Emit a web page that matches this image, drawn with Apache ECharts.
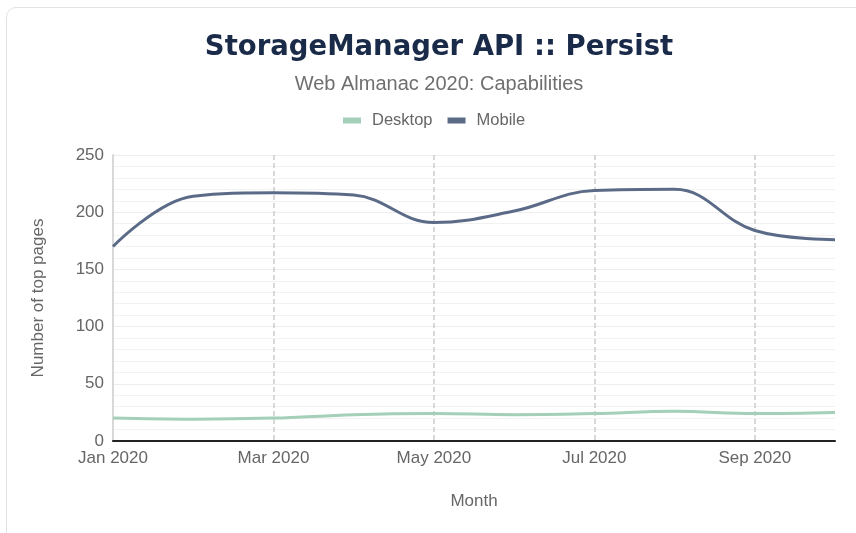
<!DOCTYPE html>
<html>
<head>
<meta charset="utf-8">
<script src="https://cdn.jsdelivr.net/npm/echarts@6/dist/echarts.min.js"></script>
<style>
  html, body { margin: 0; padding: 0; background: #fff; }
  .card {
    position: absolute; left: 6px; top: 7px; width: 870px; height: 540px;
    border: 1px solid #e3e3e3; border-radius: 10px;
  }
  #chart { position: absolute; left: 0; top: 0; width: 856px; height: 533px; }
</style>
</head>
<body>
<div class="card"></div>
<div id="chart"></div>
<script>
// month categories and values
const months = ['Jan 2020', 'Feb 2020', 'Mar 2020', 'Apr 2020', 'May 2020',
  'Jun 2020', 'Jul 2020', 'Aug 2020', 'Sep 2020', 'Oct 2020']
const desktop = [20, 19, 20, 23, 24, 23, 24, 26, 24, 25]
const mobile = [170, 214, 217, 215, 191, 201, 219, 220, 184, 176]

const font = '"Liberation Sans", Arial, sans-serif'
const chart = echarts.init(document.getElementById('chart'))
chart.setOption({
  textStyle: { fontFamily: font },
  title: {
    text: 'StorageManager API :: Persist',
    subtext: 'Web Almanac 2020: Capabilities',
    left: 434,
    textAlign: 'center',
    top: 29,
    itemGap: 12,
    textStyle: { fontFamily: '"DejaVu Sans", sans-serif', fontSize: 27.5, fontWeight: 'bold', color: '#1a2b49' },
    subtextStyle: { fontFamily: font, fontSize: 20, color: '#6f6f6f' }
  },
  legend: {
    top: 107,
    left: 338,
    itemWidth: 18,
    itemHeight: 6,
    itemGap: 15,
    icon: 'rect',
    textStyle: { fontFamily: font, fontSize: 16.5, color: '#666', padding: [0, 0, 0, 6] },
    data: ['Desktop', 'Mobile']
  },
  grid: { left: 113, right: 21, top: 155, bottom: 92, containLabel: false },
  xAxis: {
    type: 'category',
    data: months,
    boundaryGap: false,
    name: 'Month',
    nameLocation: 'middle',
    nameGap: 52,
    nameTextStyle: { fontSize: 17, color: '#666' },
    axisLine: { lineStyle: { color: '#222', width: 2 } },
    axisTick: { show: false },
    axisLabel: { interval: 1, fontSize: 17, color: '#666', margin: 9 },
    splitLine: { show: true, interval: 1, lineStyle: { color: '#ccc', type: [5, 3], width: 1.5 } }
  },
  yAxis: {
    type: 'value',
    min: 0,
    max: 250,
    interval: 50,
    name: 'Number of top pages',
    nameLocation: 'middle',
    nameGap: 66,
    nameTextStyle: { fontSize: 17, color: '#666' },
    axisLine: { show: true, lineStyle: { color: '#d8d8d8', width: 2 } },
    axisTick: { show: false },
    axisLabel: { fontSize: 17, color: '#666', margin: 9 },
    splitLine: { lineStyle: { color: '#eee' } },
    minorTick: { show: false, splitNumber: 5 },
    minorSplitLine: { show: true, lineStyle: { color: '#f2f2f2' } }
  },
  series: [
    {
      name: 'Desktop', type: 'line', data: desktop, smooth: 0.4,
      showSymbol: false, color: '#a4cfb8', lineStyle: { width: 3 }
    },
    {
      name: 'Mobile', type: 'line', data: mobile, smooth: 0.4,
      showSymbol: false, color: '#5b6b87', lineStyle: { width: 3 }
    }
  ]
})
</script>
</body>
</html>
